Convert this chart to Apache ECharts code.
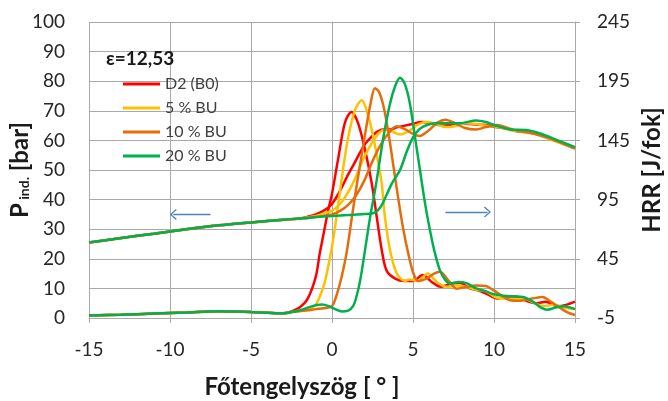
<!DOCTYPE html>
<html lang="hu">

<head>
    <meta charset="UTF-8">
    <title>Nyomás és HRR</title>
    <script src="https://cdn.jsdelivr.net/npm/echarts@6/dist/echarts.min.js"></script>
    <style>
        * {
            padding: 0;
            margin: 0;
        }

        html,
        body {
            width: 100%;
            height: 100%;
            background: #fff;
        }

        #chart {
            width: 668px;
            height: 401px;
        }
    </style>
</head>

<body>
    <div id="chart"></div>
</body>

</html>
<script>
    // fuels (legend order)
    let fuels = ['D2 (B0)', '5 % BU', '10 % BU', '20 % BU'];
    let colors = ['#ff0000', '#ffc000', '#e46c0a', '#00b050'];

    // cylinder pressure [bar], pairs of [crank angle, p]
    let pD2 = [[-15, 25.5], [-13, 27], [-11, 28.5], [-9, 30], [-7, 31.3], [-5, 32.3], [-3, 33.2], [-2, 33.6], [-1.5, 34.2], [-1, 35], [-0.5, 36.3], [0, 38.5], [0.5, 43], [1, 48.5], [1.5, 53.5], [2, 58.5], [2.4, 61], [2.8, 63], [3.2, 63.8], [3.6, 63.7], [4, 64.4], [4.5, 65], [5, 65.6], [5.5, 66.2], [6, 66], [6.5, 65.3], [7, 65], [7.5, 65.5], [8, 65.8], [8.5, 65.5], [9, 65.3], [9.5, 65.2], [10, 64.6], [10.5, 64.3], [11, 63.6], [11.5, 63], [12, 62.8], [12.5, 62.3], [13, 61.5], [13.5, 60.5], [14, 59.5], [14.5, 58.5], [15, 57.5]];
    let p5 = [[-15, 25.5], [-13, 27], [-11, 28.5], [-9, 30], [-7, 31.3], [-5, 32.3], [-3, 33.2], [-2, 33.6], [-1.5, 34], [-1, 34.5], [-0.5, 35.3], [0, 36.3], [0.5, 38.5], [1, 42.5], [1.5, 48], [2, 54.5], [2.5, 59.5], [2.9, 62.5], [3.3, 63.7], [3.7, 63], [4.2, 62], [4.7, 63], [5.3, 65.3], [5.9, 66.3], [6.4, 65.6], [7, 64.5], [7.6, 64.8], [8.2, 65.8], [8.8, 65.6], [9.4, 65], [10, 64.8], [10.5, 64.2], [11, 63.5], [11.5, 63], [12, 62.6], [12.5, 62.2], [13, 61.3], [13.5, 60.3], [14, 59.3], [14.5, 58.3], [15, 57.3]];
    let p10 = [[-15, 25.5], [-13, 27], [-11, 28.5], [-9, 30], [-7, 31.3], [-5, 32.3], [-3, 33.2], [-2, 33.6], [-1.5, 33.8], [-1, 34.1], [-0.5, 34.5], [0, 35], [0.5, 36.2], [1, 38.2], [1.5, 41.5], [2, 46.5], [2.5, 53], [3, 58.5], [3.5, 62.5], [4, 64.8], [4.5, 63.8], [5, 62.2], [5.4, 61.5], [6, 63.5], [6.5, 66], [7, 67], [7.6, 65.8], [8.2, 64.2], [8.9, 63.7], [9.5, 64.5], [10.2, 65.2], [10.8, 64.3], [11.5, 63.2], [12.2, 62.6], [13, 61.5], [13.5, 60.5], [14, 59.5], [14.5, 58.3], [15, 57.2]];
    let p20 = [[-15, 25.5], [-13, 27], [-11, 28.5], [-9, 30], [-7, 31.3], [-5, 32.3], [-3, 33.2], [-2, 33.6], [-1.5, 33.8], [-1, 34.1], [0, 34.5], [1, 34.8], [2, 35.1], [2.6, 35.5], [3, 37.5], [3.4, 42], [3.7, 45.5], [4.2, 50], [4.6, 56], [5, 61], [5.4, 63.8], [5.85, 65.2], [6.4, 65.8], [6.9, 65.8], [7.9, 65.8], [8.9, 66.7], [9.5, 66.2], [10, 65.2], [11, 63.7], [12, 63.5], [12.8, 62.4], [13.9, 60.1], [15, 57.7]];

    // heat release rate [J/fok], pairs of [crank angle, HRR]
    let hD2 = [[-15, -2.8], [-13, -2.3], [-11, -1.3], [-9, -0.3], [-7, 0.8], [-6, 0.5], [-5, 0], [-4, -0.5], [-3, -1], [-2.5, 0.5], [-2, 3.8], [-1.5, 11.3], [-1, 30], [-0.75, 50], [-0.5, 67.5], [-0.25, 85], [0, 100], [0.4, 131], [0.8, 160], [1.2, 169], [1.6, 160], [2.04, 137], [2.45, 109], [2.76, 80.5], [3.07, 52.5], [3.37, 35], [3.9, 28.3], [4.5, 26.3], [5, 26.3], [5.6, 31.3], [6.2, 25], [6.7, 21.3], [7.3, 23.8], [7.9, 24.5], [8.5, 20], [9, 18.3], [9.6, 15], [10.2, 11.5], [10.8, 13], [11.4, 13], [12, 9.5], [12.6, 7.5], [13.2, 8.8], [13.9, 5], [14.5, 6.3], [15, 8.8]];
    let h5 = [[-15, -2.8], [-13, -2.3], [-11, -1.3], [-9, -0.3], [-7, 0.8], [-6, 0.5], [-5, 0], [-4, -0.5], [-3, -1], [-2.5, 0], [-2, 1.3], [-1.5, 2], [-1, 6.3], [-0.5, 22.5], [-0.25, 37.5], [0, 55], [0.3, 82.5], [0.7, 122.5], [1, 147.5], [1.4, 170], [1.83, 179], [2.3, 162.5], [2.7, 137.5], [2.9, 122.5], [3.07, 108.8], [3.27, 80], [3.58, 52.5], [4, 32.5], [4.5, 26.3], [4.8, 27.5], [5.3, 26.3], [5.9, 32.5], [6.5, 25], [7.1, 21.3], [7.7, 22.5], [8.3, 21.3], [8.9, 18.8], [9.5, 17.5], [10.1, 12.5], [10.7, 11.3], [11.3, 11.3], [11.9, 11.3], [12.5, 7.5], [13.1, 5], [13.7, 6.3], [14.3, 3.8], [15, 2.5]];
    let h10 = [[-15, -2.8], [-13, -2.3], [-11, -1.3], [-9, -0.3], [-7, 0.8], [-6, 0.5], [-5, 0], [-4, -0.5], [-3, -1], [-2.5, 0], [-2, 0.8], [-1.5, 1.5], [-1, 2.5], [-0.5, 3.3], [0, 5], [0.3, 15], [0.6, 30], [0.9, 50], [1.2, 77.5], [1.5, 105], [1.8, 130], [2.1, 155], [2.4, 177.5], [2.65, 189], [2.9, 186], [3.2, 172.5], [3.5, 150], [3.8, 122.5], [4.1, 95], [4.4, 70], [4.7, 50], [5, 33.8], [5.3, 26.3], [5.6, 27], [5.9, 28.8], [6.3, 32.5], [6.67, 34], [7.2, 26.3], [7.7, 19.8], [8.3, 21.3], [8.9, 22.5], [9.5, 22], [9.96, 18.5], [10.5, 13.8], [11, 10], [11.6, 9.5], [12.3, 11.3], [13, 12.8], [13.5, 8.8], [14, 4.3], [14.5, 0], [15, -2.5]];
    let h20 = [[-15, -2.8], [-13, -2.3], [-11, -1.3], [-9, -0.3], [-7, 0.8], [-6, 0.5], [-5, 0], [-4, -0.5], [-3, -1], [-2.5, 0], [-2, 1.3], [-1.5, 3.8], [-1, 5.8], [-0.6, 6.5], [-0.2, 5], [0.2, 2.5], [0.6, 0.5], [1, 1.3], [1.3, 5], [1.5, 12.5], [1.75, 27.5], [2.04, 52.5], [2.35, 80], [2.65, 102.5], [2.86, 120], [3.17, 147.5], [3.58, 176], [3.9, 191], [4.2, 198], [4.5, 192.5], [4.81, 176], [5.12, 148], [5.43, 120], [5.74, 92], [6.05, 69], [6.35, 50], [6.67, 35], [7, 27], [7.3, 24], [7.8, 25.5], [8.3, 24.5], [8.9, 20], [9.5, 17.5], [10, 15], [10.6, 13.8], [11.2, 13.3], [11.8, 12.8], [12.4, 8.8], [12.9, 3.8], [13.3, 2], [13.8, 3.8], [14.3, 5], [15, 2.5]];

    // right axis tick values
    let hrrTicks = [-5, 45, 95, 145, 195, 245];

    let pressure = [pD2, p5, p10, p20];
    let hrr = [hD2, h5, h10, h20];

    let gridColor = '#a9a9a9';
    let labelColor = '#262626';
    let chevron = 'path://M5,0 L10,8 L9,9 L5,2.4 L1,9 L0,8 Z';

    var myChart = echarts.init(document.getElementById('chart'));

    let series = [];
    fuels.forEach(function (name, i) {
        series.push({
            name: name,
            type: 'line',
            yAxisIndex: 0,
            data: pressure[i],
            smooth: 0.3,
            symbol: 'none',
            lineStyle: { width: 2.5, color: colors[i] },
            itemStyle: { color: colors[i] }
        });
        series.push({
            name: name,
            type: 'line',
            yAxisIndex: 1,
            data: hrr[i],
            smooth: 0.3,
            symbol: 'none',
            lineStyle: { width: 2.5, color: colors[i] },
            itemStyle: { color: colors[i] }
        });
    });

    // the two arrows pointing at the axes
    series[0].markLine = {
        silent: true,
        symbol: ['none', chevron],
        symbolSize: [11, 7],
        label: { show: false },
        lineStyle: { color: '#4f81bd', width: 1.3, type: 'solid' },
        data: [
            [{ coord: [-7.5, 35] }, { coord: [-9.8, 35] }],
            [{ coord: [7.0, 35.8] }, { coord: [9.6, 35.8] }]
        ]
    };

    option = {
        animation: false,
        textStyle: { fontFamily: 'Lato' },
        title: {
            text: 'ε=12,53',
            left: 101,
            top: 44,
            textStyle: { fontSize: 19, fontWeight: 'bold', color: '#1a1a1a', fontFamily: 'Lato' }
        },
        legend: {
            data: fuels,
            orient: 'vertical',
            left: 118,
            top: 71,
            itemWidth: 37,
            itemHeight: 3,
            itemGap: 8,
            icon: 'rect',
            textStyle: { fontSize: 16, color: '#404040', fontFamily: 'Lato' }
        },
        grid: { left: 89, right: 93, top: 22, bottom: 83, outerBoundsMode: 'none' },
        xAxis: {
            type: 'value',
            min: -15,
            max: 15,
            interval: 5,
            name: 'Főtengelyszög [ ° ]',
            nameLocation: 'middle',
            nameGap: 57,
            nameMoveOverlap: false,
            nameTextStyle: { fontSize: 24, fontWeight: 'bold', color: '#1a1a1a', padding: [0, 60, 0, 0] },
            axisLine: { show: true, lineStyle: { color: gridColor } },
            axisTick: { show: true, length: 5, lineStyle: { color: gridColor } },
            axisLabel: { fontSize: 19, color: labelColor, margin: 22 },
            splitLine: { show: true, lineStyle: { color: gridColor } }
        },
        yAxis: [
            {
                type: 'value',
                min: 0,
                max: 100,
                interval: 10,
                name: '{p|P}{s| ind.}{p| [bar]}',
                nameLocation: 'middle',
                nameRotate: 90,
                nameGap: 58,
                nameMoveOverlap: false,
                nameTextStyle: {
                    rich: {
                        p: { fontSize: 24, fontWeight: 'bold', color: '#1a1a1a', fontFamily: 'Lato', lineHeight: 22 },
                        s: { fontSize: 14, fontWeight: 'bold', color: '#1a1a1a', fontFamily: 'Lato', verticalAlign: 'bottom', lineHeight: 22 }
                    }
                },
                axisLine: { show: true, lineStyle: { color: gridColor } },
                axisTick: { show: true, length: 5, lineStyle: { color: gridColor } },
                axisLabel: { fontSize: 19, color: labelColor, margin: 24 },
                splitLine: { show: true, lineStyle: { color: gridColor } }
            },
            {
                type: 'value',
                position: 'right',
                min: -5,
                max: 245,
                name: 'HRR [J/fok]',
                nameLocation: 'middle',
                nameRotate: 90,
                nameGap: 65,
                nameMoveOverlap: false,
                nameTextStyle: { fontSize: 24, fontWeight: 'bold', color: '#1a1a1a', lineHeight: 24 },
                axisLine: { show: true, lineStyle: { color: gridColor } },
                axisTick: { show: true, length: 5, customValues: hrrTicks, lineStyle: { color: gridColor } },
                axisLabel: { fontSize: 19, color: labelColor, margin: 22, customValues: hrrTicks },
                splitLine: { show: false }
            }
        ],
        series: series
    };
    myChart.setOption(option);
</script>
